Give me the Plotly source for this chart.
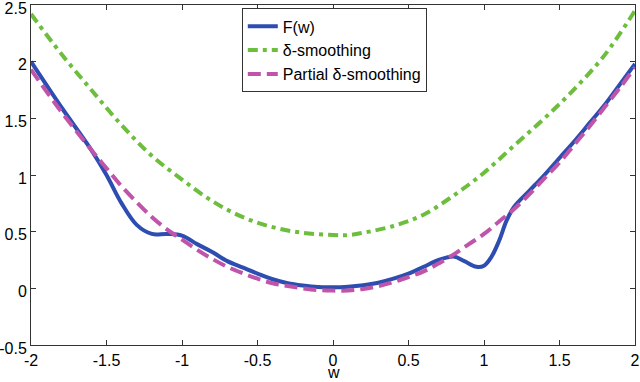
import plotly.graph_objects as go

# F(w)
w_f = [-2.0, -1.8, -1.6, -1.5, -1.4, -1.3, -1.2, -1.1, -1.0, -0.9, -0.8, -0.7, -0.6,
       -0.5, -0.4, -0.3, -0.2, -0.1, 0.0, 0.1, 0.2, 0.3, 0.4, 0.5, 0.6, 0.7, 0.8,
       0.87, 0.95, 1.0, 1.05, 1.1, 1.15, 1.2, 1.3, 1.4, 1.5, 1.6, 1.7, 1.8, 1.9, 2.0]
f_vals = [2.0, 1.6, 1.22, 1.0, 0.75, 0.56, 0.48, 0.48, 0.465, 0.39, 0.32, 0.24, 0.185,
          0.13, 0.08, 0.045, 0.025, 0.012, 0.01, 0.015, 0.028, 0.05, 0.085, 0.13, 0.19,
          0.25, 0.28, 0.24, 0.19, 0.2, 0.28, 0.42, 0.6, 0.72, 0.86, 1.0, 1.15, 1.3,
          1.46, 1.62, 1.8, 1.98]

# delta-smoothing
w_s = [-2.0, -1.8, -1.6, -1.4, -1.2, -1.0, -0.8, -0.6, -0.4, -0.2, 0.0, 0.1, 0.2,
       0.4, 0.6, 0.8, 1.0, 1.2, 1.4, 1.6, 1.8, 2.0]
s_vals = [2.42, 2.07, 1.75, 1.44, 1.17, 0.96, 0.77, 0.63, 0.54, 0.49, 0.47, 0.47, 0.49,
          0.55, 0.65, 0.82, 1.02, 1.26, 1.5, 1.76, 2.06, 2.45]

# partial delta-smoothing
w_p = [-2.0, -1.8, -1.6, -1.5, -1.4, -1.3, -1.2, -1.1, -1.0, -0.9, -0.8, -0.7, -0.6,
       -0.5, -0.4, -0.3, -0.2, -0.1, 0.0, 0.1, 0.2, 0.3, 0.4, 0.5, 0.6, 0.7, 0.8,
       0.9, 1.0, 1.1, 1.2, 1.3, 1.4, 1.5, 1.6, 1.7, 1.8, 1.9, 2.0]
p_vals = [1.93, 1.56, 1.22, 1.06, 0.9, 0.76, 0.63, 0.52, 0.43, 0.34, 0.26, 0.19, 0.135,
          0.085, 0.045, 0.02, 0.0, -0.015, -0.02, -0.02, -0.005, 0.02, 0.055, 0.1, 0.15,
          0.22, 0.3, 0.39, 0.48, 0.59, 0.7, 0.83, 0.97, 1.11, 1.27, 1.43, 1.6, 1.77, 1.95]

x_ticks = [-2, -1.5, -1, -0.5, 0, 0.5, 1, 1.5, 2]
x_labels = ["-2", "-1.5", "-1", "-0.5", "0", "0.5", "1", "1.5", "2"]
y_ticks = [-0.5, 0, 0.5, 1, 1.5, 2, 2.5]
y_labels = ["-0.5", "0", "0.5", "1", "1.5", "2", "2.5"]

fig = go.Figure()
fig.add_trace(go.Scatter(x=w_f, y=f_vals, mode="lines", name="F(w)",
                         line=dict(color="#2d4db0", width=4, shape="spline")))
fig.add_trace(go.Scatter(x=w_s, y=s_vals, mode="lines", name="δ-smoothing",
                         line=dict(color="#6cbe3c", width=4, shape="spline",
                                   dash="10px,5px,4px,5px")))
fig.add_trace(go.Scatter(x=w_p, y=p_vals, mode="lines", name="Partial δ-smoothing",
                         line=dict(color="#c054aa", width=4, shape="spline",
                                   dash="13px,6px")))

axis_font = dict(family="Liberation Sans, Arial, sans-serif", size=16, color="black")
fig.update_layout(
    width=640, height=382,
    margin=dict(l=31, r=5, t=5, b=37, autoexpand=False),
    plot_bgcolor="white", paper_bgcolor="white",
    font=axis_font,
    legend=dict(x=0.349, y=0.99, xanchor="left", yanchor="top",
                bgcolor="white", bordercolor="#333333", borderwidth=1,
                font=axis_font, tracegroupgap=0, itemwidth=30),
)
# x axis label placed by hand, sitting on the bottom edge of the figure
fig.add_annotation(text="w", xref="paper", yref="paper", x=0.5, y=0,
                   xanchor="center", yanchor="bottom", yshift=-37, borderpad=0,
                   showarrow=False, font=axis_font)
fig.update_xaxes(range=[-2, 2], tickvals=x_ticks, ticktext=x_labels,
                 ticks="inside", ticklen=5, tickcolor="#333333",
                 showline=True, linecolor="#333333", linewidth=1, mirror="ticks",
                 showgrid=False, zeroline=False, automargin=False,
                 ticklabeloverflow="allow", ticklabelstandoff=1)
fig.update_yaxes(range=[-0.5, 2.5], tickvals=y_ticks, ticktext=y_labels,
                 ticks="inside", ticklen=5, tickcolor="#333333",
                 showline=True, linecolor="#333333", linewidth=1, mirror="ticks",
                 showgrid=False, zeroline=False, automargin=False,
                 ticklabeloverflow="allow", ticklabelstandoff=0, ticklabelshift=3)

# drop the page's default body margin so the figure sits at the window corner
fig.write_html("out.html", config={"displayModeBar": False},
               post_script="document.body.style.margin='0';")
